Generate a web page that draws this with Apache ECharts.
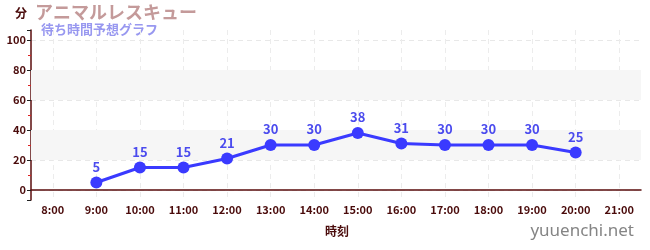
<!DOCTYPE html>
<html><head><meta charset="utf-8">
<script src="https://cdn.jsdelivr.net/npm/echarts@6/dist/echarts.min.js"></script>
<style>html,body{margin:0;padding:0;background:#fff}#c{width:650px;height:250px}</style>
</head><body><div id="c"></div>
<script>
const timeLabels = ['8:00','9:00','10:00','11:00','12:00','13:00','14:00','15:00','16:00','17:00','18:00','19:00','20:00','21:00'];
const waitValues = [null,5,15,15,21,30,30,38,31,30,30,30,25,null];
const yTicks = [0,20,40,60,80,100];
const shadedBands = [[20,40],[60,80]];
const titleText = 'アニマルレスキュー';
const subtitleText = '待ち時間予想グラフ';

const dark = '#4a0b0b';
const chart = echarts.init(document.getElementById('c'));
chart.setOption({
  animation: false,
  textStyle: {fontFamily: '"Noto Sans CJK JP", "Noto Sans", sans-serif'},
  grid: {left: 31, right: 9, top: 30, bottom: 50},
  graphic: [
    {type:'text', left: 35, top: 3, style:{text: titleText, fill:'#c49a9a', font:'bold 18px "Noto Sans CJK JP"'}},
    {type:'text', left: 41, top: 23, style:{text: subtitleText, fill:'#9898f0', font:'bold 13px "Noto Sans CJK JP"'}},
    {type:'text', left: 15, top: 7, style:{text: '分', fill: dark, font:'bold 12px "Noto Sans CJK JP"'}},
    {type:'text', left: 325, top: 225, style:{text: '時刻', fill: dark, font:'bold 12px "Noto Sans CJK JP"'}},
    {type:'text', right: 16, top: 223, style:{text: 'yuuenchi.net', fill:'#858585', font:'17px "Noto Sans", sans-serif'}}
  ],
  xAxis: [
    {type:'category', data: timeLabels, boundaryGap: true,
     axisLine:{lineStyle:{color: '#5a0d0d', width: 1.5}},
     axisTick:{alignWithLabel:true, length:3, lineStyle:{color:'#333'}},
     axisLabel:{color: dark, fontWeight:'bold', fontSize:11, margin:4},
     splitLine:{show:false}},
    {type:'value', min: 7.5, max: 21.5, splitNumber: 14, position:'bottom',
     axisLine:{show:false}, axisTick:{show:false}, axisLabel:{show:false},
     splitLine:{show:true, showMinLine:false, showMaxLine:false, lineStyle:{color:'#ececec', type:[5,4]}}}
  ],
  yAxis: {type:'value', min: -20/3, max: 320/3, splitNumber: 5,
    axisLine:{show:true, lineStyle:{color: '#5a0d0d', width: 1.5}},
    axisTick:{show:true, length:4, lineStyle:{color:'#222'}},
    minorTick:{show:true, splitNumber:2, length:3, lineStyle:{color:'#dd2222'}},
    axisLabel:{color: dark, fontWeight:'bold', fontSize:11, margin:5,
      formatter: v => yTicks.includes(Math.round(v*1000)/1000) ? String(Math.round(v)) : ''},
    splitLine:{show:true, showMinLine:false, showMaxLine:false, lineStyle:{color:'#e8e8e8', type:[5,4]}}
  },
  series: [{
    type:'line', xAxisIndex:0, data: waitValues,
    symbol:'circle', symbolSize: 12, connectNulls: false,
    lineStyle:{color:'#3a3aff', width:3},
    itemStyle:{color:'#3a3aff'},
    label:{show:true, position:'top', distance:3, color:'#4b4bee', fontWeight:'bold', fontSize:13},
    markArea:{silent:true, itemStyle:{color:'#f6f6f6'},
      data: shadedBands.map(b => [{yAxis:b[0]},{yAxis:b[1]}])},
    z: 5
  }]
});
</script></body></html>
